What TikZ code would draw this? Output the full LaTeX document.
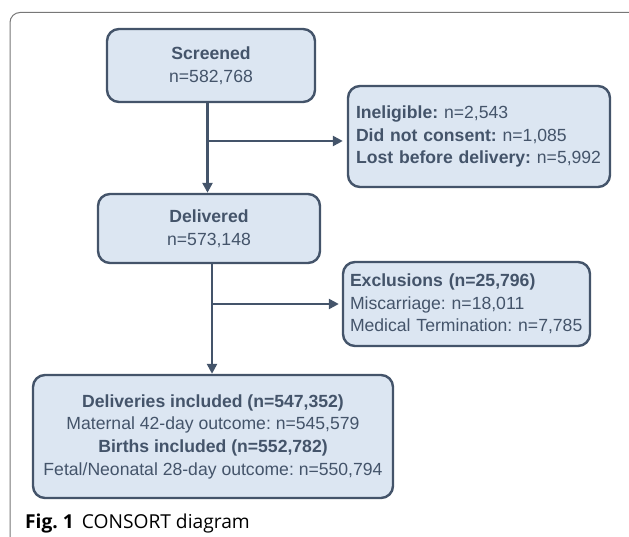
\documentclass[tikz,border=0pt]{standalone}
\usepackage{fontspec}
\setmainfont{Liberation Sans}
\newfontfamily\capfont{Open Sans}
\usetikzlibrary{arrows.meta}
\definecolor{boxline}{HTML}{44546A}
\definecolor{boxfill}{HTML}{DCE6F2}
\definecolor{txt}{HTML}{44546A}
\definecolor{frame}{HTML}{777777}
\frenchspacing
\begin{document}
\begin{tikzpicture}[x=1pt,y=-1pt,
  box/.style={draw=boxline, fill=boxfill, line width=2.4pt, rounded corners=12pt,
    inner sep=0pt, text=txt, font=\fontsize{17.6}{22.7}\selectfont},
  cbox/.style={box, align=center},
  lbox/.style={box, align=left},
  conn/.style={draw=boxline, line width=2.4pt},
  arr/.style={conn, -{Triangle[length=10pt,width=10pt]}}
]
\useasboundingbox (0,0) rectangle (629,537);
\begin{scope}
\clip (0,0) rectangle (629,537);
\draw[frame, line width=1pt, rounded corners=10pt] (10,560) -- (10,12.5) -- (660,12.5);
\end{scope}

\node[cbox, minimum width=208pt, minimum height=73pt] (scr) at (211,65.5)
  {\textbf{Screened}\\n=582,768};
\node[lbox, minimum width=262pt, minimum height=101pt, text width=246pt] (inel) at (479,136.5)
  {\textbf{Ineligible:} n=2,543\\\textbf{Did not consent:} n=1,085\\\textbf{Lost before delivery:} n=5,992};
\node[cbox, minimum width=222pt, minimum height=69pt] (del) at (209,228.5)
  {\textbf{Delivered}\\n=573,148};
\node[lbox, minimum width=247pt, minimum height=84pt, text width=233pt] (excl) at (466.5,304)
  {\textbf{Exclusions (n=25,796)}\\Miscarriage: n=18,011\\Medical Termination: n=7,785};
\node[cbox, minimum width=360pt, minimum height=123pt] (inc) at (213,436.5)
  {\textbf{Deliveries included (n=547,352)}\\Maternal 42-day outcome: n=545,579\\\textbf{Births included (n=552,782)}\\Fetal/Neonatal 28-day outcome: n=550,794};

\coordinate (v1) at (207.5,0);
\coordinate (b1) at (207.5,141);
\coordinate (v2) at (212,0);
\coordinate (b2) at (212,304);

\draw[arr] (scr.south -| v1) -- (del.north -| v1);
\draw[arr, shorten >=4pt] (b1) -- (b1 -| inel.west);
\draw[arr] (del.south -| v2) -- (inc.north -| v2);
\draw[arr, shorten >=3pt] (b2) -- (b2 -| excl.west);

\node[anchor=base west, inner sep=0pt, font=\capfont\fontsize{19.2}{22}\selectfont, text=black] (cap) at (25,528)
  {\textbf{Fig. 1}\hspace{8pt}CONSORT diagram};
\end{tikzpicture}
\end{document}
